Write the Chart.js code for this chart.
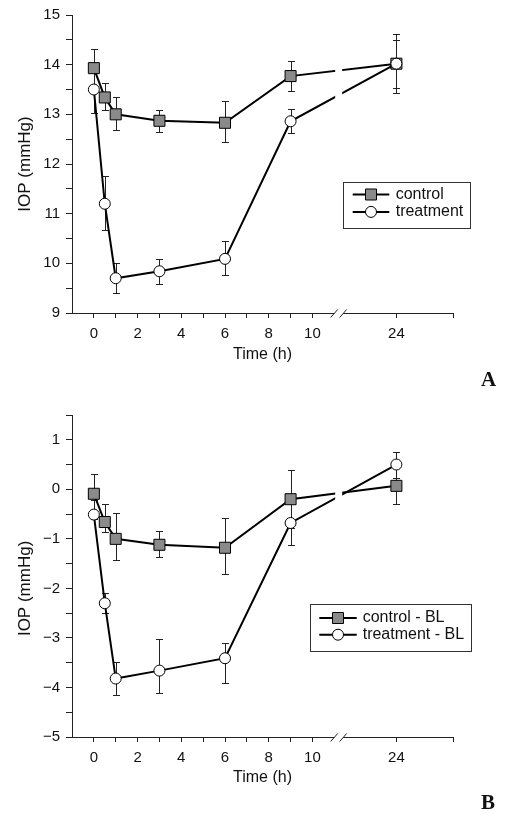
<!DOCTYPE html>
<html>
<head>
<meta charset="utf-8">
<script src="https://cdn.jsdelivr.net/npm/chart.js@4.4.1/dist/chart.umd.min.js"></script>
<style>
  html, body { margin: 0; padding: 0; background: #fff; }
  body { width: 506px; height: 816px; position: relative; overflow: hidden; }
  .panel { position: absolute; left: 0; }
  .panel canvas { display: block; }
  .tag { position: absolute; font: bold 21px "Liberation Serif", "Times New Roman", serif; line-height: 21px; color: #111; }
</style>
</head>
<body>
<div class="panel" style="top:0"><canvas id="chartA" width="506" height="400"></canvas></div>
<div class="panel" style="top:400px"><canvas id="chartB" width="506" height="416"></canvas></div>
<div class="tag" style="left:481px; top:369px">A</div>
<div class="tag" style="left:481px; top:792px">B</div>

<script>
// time points (h)
const times = [0, 0.5, 1, 3, 6, 9, 24];
const labelledTimes = [0, 2, 4, 6, 8, 10, 24];
const minorTimes = [1, 3, 5, 7, 9];

// panel A: absolute IOP (mmHg), mean with upper / lower error
const controlA     = [13.93, 13.34, 13.00, 12.87, 12.83, 13.77, 14.02];
const controlAUp   = [0.38, 0.30, 0.34, 0.22, 0.43, 0.31, 0.48];
const controlADown = [0.38, 0.25, 0.31, 0.22, 0.39, 0.31, 0.48];
const treatA       = [13.50, 11.20, 9.70, 9.84, 10.09, 12.86, 14.02];
const treatAUp     = [0.47, 0.56, 0.30, 0.25, 0.35, 0.24, 0.60];
const treatADown   = [0.47, 0.53, 0.30, 0.25, 0.32, 0.24, 0.60];

// panel B: change from baseline (mmHg)
const controlB     = [-0.09, -0.66, -1.00, -1.12, -1.18, -0.20, 0.07];
const controlBUp   = [0.39, 0.36, 0.52, 0.27, 0.61, 0.59, 0.37];
const controlBDown = [0.39, 0.20, 0.42, 0.24, 0.53, 0.59, 0.37];
const treatB       = [-0.51, -2.30, -3.82, -3.66, -3.41, -0.68, 0.50];
const treatBUp     = [0.30, 0.20, 0.34, 0.63, 0.30, 0.45, 0.25];
const treatBDown   = [0.08, 0.19, 0.33, 0.46, 0.51, 0.45, 0.28];

// broken time axis: 24 h is drawn right after the break
const POS24 = 13.84;
const X_START = -1;
const X_END = 16.43;
const BREAK_AT = 11.2;
function axisX(t) { return t > 10 ? t - 24 + POS24 : t; }

const FONT = '"Liberation Sans", Arial, Helvetica, sans-serif';
Chart.defaults.font.family = FONT;
Chart.defaults.color = '#111';

function minus(v) { return v < 0 ? '\u2212' + Math.abs(v) : String(v); }

// error bars, drawn under the markers
const errorBars = {
  id: 'errorBars',
  beforeDatasetsDraw(chart) {
    const ctx = chart.ctx, ys = chart.scales.y;
    ctx.save();
    ctx.strokeStyle = '#222';
    ctx.lineWidth = 1;
    chart.data.datasets.forEach((ds, i) => {
      chart.getDatasetMeta(i).data.forEach((pt, j) => {
        const v = ds.data[j].y;
        const top = Math.round(ys.getPixelForValue(v + ds.errUp[j])) + 0.5;
        const bot = Math.round(ys.getPixelForValue(v - ds.errDown[j])) + 0.5;
        const x = Math.round(pt.x) + 0.5;
        ctx.beginPath();
        ctx.moveTo(x, top); ctx.lineTo(x, bot);
        ctx.moveTo(x - 3.5, top); ctx.lineTo(x + 3.5, top);
        ctx.moveTo(x - 3.5, bot); ctx.lineTo(x + 3.5, bot);
        ctx.stroke();
      });
    });
    ctx.restore();
  }
};

// axis break marks and the gap in the lines crossing it
const axisBreak = {
  id: 'axisBreak',
  afterDraw(chart, args, o) {
    const ctx = chart.ctx, a = chart.chartArea;
    const cx = chart.scales.x.getPixelForValue(o.at);
    ctx.save();
    ctx.fillStyle = '#fff';
    ctx.fillRect(cx - 3.5, a.top, 7, a.bottom - a.top - 2);
    ctx.fillRect(cx - 4.5, a.bottom - 2, 9, 4);
    ctx.strokeStyle = '#222';
    ctx.lineWidth = 1;
    [-4.5, 4.5].forEach(d => {
      ctx.beginPath();
      ctx.moveTo(cx + d - 3.5, a.bottom + 4.5);
      ctx.lineTo(cx + d + 3.5, a.bottom - 3.5);
      ctx.stroke();
    });
    ctx.restore();
  }
};

// boxed legend with line + marker samples
const boxLegend = {
  id: 'boxLegend',
  afterDraw(chart, args, o) {
    const ctx = chart.ctx;
    ctx.save();
    ctx.fillStyle = '#fff';
    ctx.fillRect(o.x, o.y, o.w, o.h);
    ctx.strokeStyle = '#333';
    ctx.lineWidth = 1;
    ctx.strokeRect(Math.round(o.x) + 0.5, Math.round(o.y) + 0.5, o.w, o.h);
    chart.data.datasets.forEach((ds, i) => {
      const cy = o.y + o.rowTop + i * o.rowGap;
      const mid = o.x + (o.lineFrom + o.lineTo) / 2;
      ctx.strokeStyle = '#000';
      ctx.lineWidth = 2;
      ctx.beginPath();
      ctx.moveTo(o.x + o.lineFrom, cy);
      ctx.lineTo(o.x + o.lineTo, cy);
      ctx.stroke();
      ctx.lineWidth = 1;
      ctx.fillStyle = ds.pointBackgroundColor;
      ctx.beginPath();
      if (ds.pointStyle === 'rect') {
        ctx.rect(mid - 5.5, cy - 5.5, 11, 11);
      } else {
        ctx.arc(mid, cy, 5.5, 0, Math.PI * 2);
      }
      ctx.fill();
      ctx.stroke();
      ctx.fillStyle = '#111';
      ctx.font = '16px ' + FONT;
      ctx.textBaseline = 'middle';
      ctx.fillText(ds.label, o.x + o.textX, cy);
    });
    ctx.restore();
  }
};

// y title centred on the labelled part of the axis
const yTitle = {
  id: 'yTitle',
  afterDraw(chart, args, o) {
    const ctx = chart.ctx, ys = chart.scales.y;
    const cy = (ys.getPixelForValue(o.from) + ys.getPixelForValue(o.to)) / 2;
    ctx.save();
    ctx.translate(o.x, cy);
    ctx.rotate(-Math.PI / 2);
    ctx.font = '17px ' + FONT;
    ctx.fillStyle = '#111';
    ctx.textAlign = 'center';
    ctx.textBaseline = 'middle';
    ctx.fillText(o.text, 0, 0);
    ctx.restore();
  }
};

function series(label, values, up, down, style, fill, radius, order) {
  return {
    label: label,
    data: times.map((t, i) => ({ x: axisX(t), y: values[i] })),
    errUp: up,
    errDown: down,
    borderColor: '#000',
    borderWidth: 2,
    tension: 0,
    pointStyle: style,
    pointRadius: radius,
    pointBackgroundColor: fill,
    pointBorderColor: '#000',
    pointBorderWidth: 1,
    order: order
  };
}

function makePanel(id, p) {
  const xTickValues = labelledTimes.concat(minorTimes).map(axisX).concat([X_END]);
  return new Chart(document.getElementById(id), {
    type: 'line',
    data: {
      datasets: [
        series(p.names[0], p.control, p.controlUp, p.controlDown, 'rect', '#8a8a8a', 7.8, 1),
        series(p.names[1], p.treat, p.treatUp, p.treatDown, 'circle', '#fff', 5.5, 0)
      ]
    },
    options: {
      responsive: false,
      animation: false,
      events: [],
      layout: { padding: { left: 0, right: 53, top: p.top, bottom: 0 } },
      scales: {
        x: {
          type: 'linear',
          min: X_START,
          max: X_END,
          afterBuildTicks: s => { s.ticks = xTickValues.sort((a, b) => a - b).map(v => ({ value: v })); },
          afterFit: s => { s.height = p.xHeight; },
          grid: { drawOnChartArea: false, tickLength: 5, color: '#222' },
          border: { color: '#222', width: 1 },
          ticks: {
            autoSkip: false,
            maxRotation: 0,
            padding: 7,
            font: { size: 15 },
            callback: v => {
              const t = labelledTimes.find(tt => Math.abs(axisX(tt) - v) < 1e-6);
              return t === undefined ? '' : String(t);
            }
          },
          title: { display: true, text: 'Time (h)', font: { size: 16 }, padding: { top: 0, bottom: p.xTitlePad } }
        },
        y: {
          min: p.yMin,
          max: p.yMax,
          afterFit: s => { s.width = 72; },
          grid: { drawOnChartArea: false, tickLength: 6, color: '#222' },
          border: { color: '#222', width: 1 },
          ticks: {
            stepSize: 0.5,
            maxTicksLimit: 30,
            autoSkip: false,
            padding: 6,
            font: { size: 15 },
            callback: v => Number.isInteger(v) ? minus(v) : ''
          }
        }
      },
      plugins: {
        legend: { display: false },
        tooltip: { enabled: false },
        axisBreak: { at: BREAK_AT },
        boxLegend: p.legend,
        yTitle: { text: 'IOP (mmHg)', x: 25, from: p.titleFrom, to: p.titleTo }
      }
    },
    plugins: [errorBars, axisBreak, boxLegend, yTitle]
  });
}

makePanel('chartA', {
  names: ['control', 'treatment'],
  control: controlA, controlUp: controlAUp, controlDown: controlADown,
  treat: treatA, treatUp: treatAUp, treatDown: treatADown,
  yMin: 9, yMax: 15, titleFrom: 9, titleTo: 15,
  top: 11, xHeight: 87, xTitlePad: 35.4,
  legend: { x: 343, y: 182, w: 127, h: 46, rowTop: 12.5, rowGap: 17.4, lineFrom: 9.7, lineTo: 46.3, textX: 52.7 }
});

makePanel('chartB', {
  names: ['control - BL', 'treatment - BL'],
  control: controlB, controlUp: controlBUp, controlDown: controlBDown,
  treat: treatB, treatUp: treatBUp, treatDown: treatBDown,
  yMin: -5, yMax: 1.5, titleFrom: -5, titleTo: 1,
  top: 8.3, xHeight: 79, xTitlePad: 28.4,
  legend: { x: 310, y: 204, w: 161, h: 47, rowTop: 14, rowGap: 16.7, lineFrom: 9.3, lineTo: 46.7, textX: 52.7 }
});
</script>
</body>
</html>
